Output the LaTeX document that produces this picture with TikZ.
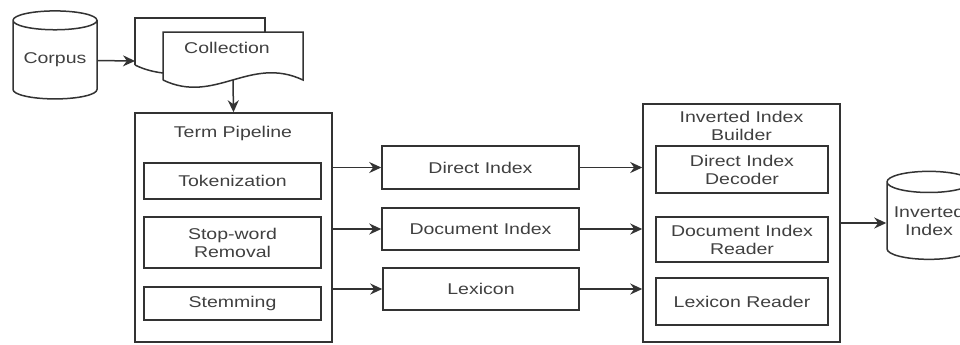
\documentclass[tikz,border=0pt]{standalone}
\usepackage{fontspec}
\setmainfont[FakeStretch=1.25]{Liberation Sans}
\usetikzlibrary{shapes.geometric,arrows.meta}

\begin{document}
\begin{tikzpicture}[x=0.5pt,y=-0.5pt,
  font=\fontsize{7.8}{9}\selectfont, text=black!75,
  line/.style={draw=black!80, line width=0.75pt},
  box/.style={line, rectangle, align=center, inner sep=0pt},
  db/.style={line, cylinder, shape border rotate=90, aspect=0.3, align=center, inner sep=0pt, minimum width=42pt, minimum height=44pt},
  arr/.style={line, -{Stealth[length=6pt,width=5.5pt]}},
]
\clip (0,0) rectangle (960,344);

% sources
\node[db] (corpus) at (55,60) {Corpus};
\coordinate (collin) at (135,61);

% collection (two stacked pages)
\draw[line, fill=white] (135,65) -- (135,18) -- (265,18) -- (265,32);
\draw[line] (135,65) .. controls (145,70) and (155,72) .. (163,73);
\draw[line, fill=white] (163,80) -- (163,32) -- (303,32) -- (303,80)
  .. controls (250,55) and (215,105) .. (163,80);
\node (coll) at (227,48) {Collection};
\coordinate (collout) at (233,80);

% term pipeline
\node[box, minimum width=98.5pt, minimum height=114.5pt] (pipe) at (233.5,227.5) {};
\node (pipetitle) at (233,133) {Term Pipeline};
\node[box, minimum width=88.5pt, minimum height=18pt] (tok) at (232.5,181) {Tokenization};
\node[box, minimum width=88.5pt, minimum height=25.5pt] (stop) at (232.5,242.5) {Stop-word\\Removal};
\node[box, minimum width=88.5pt, minimum height=16.5pt] (stem) at (232.5,303.5) {Stemming};

% indices
\node[box, minimum width=98.5pt, minimum height=21.5pt] (direct) at (480.5,167.5) {Direct Index};
\node[box, minimum width=98.5pt, minimum height=21pt] (docidx) at (480.5,229) {Document Index};
\node[box, minimum width=98pt, minimum height=21pt] (lexicon) at (481,289) {Lexicon};

% inverted index builder
\node[box, minimum width=98.5pt, minimum height=119pt] (builder) at (741.5,223) {};
\node[align=center] (buildtitle) at (741.5,126) {Inverted Index\\Builder};
\node[box, minimum width=86pt, minimum height=23.5pt] (decoder) at (742,169.5) {Direct Index\\Decoder};
\node[box, minimum width=86pt, minimum height=22.5pt] (docreader) at (742,239.5) {Document Index\\Reader};
\node[box, minimum width=86pt, minimum height=23.5pt] (lexreader) at (742,301.5) {Lexicon Reader};

\node[db] (inverted) at (929,221) {Inverted\\Index};

\draw[arr] (corpus) -- (collin);
\draw[arr] (collout) -- (pipe.north);
\draw[arr] (direct.west -| pipe.east) -- (direct.west);
\draw[arr] (docidx.west -| pipe.east) -- (docidx.west);
\draw[arr] (lexicon.west -| pipe.east) -- (lexicon.west);
\draw[arr] (direct.east) -- (direct.east -| builder.west);
\draw[arr] (docidx.east) -- (docidx.east -| builder.west);
\draw[arr] (lexicon.east) -- (lexicon.east -| builder.west);
\draw[arr] (builder.east) -- (builder.east -| inverted.west);
\end{tikzpicture}
\end{document}
